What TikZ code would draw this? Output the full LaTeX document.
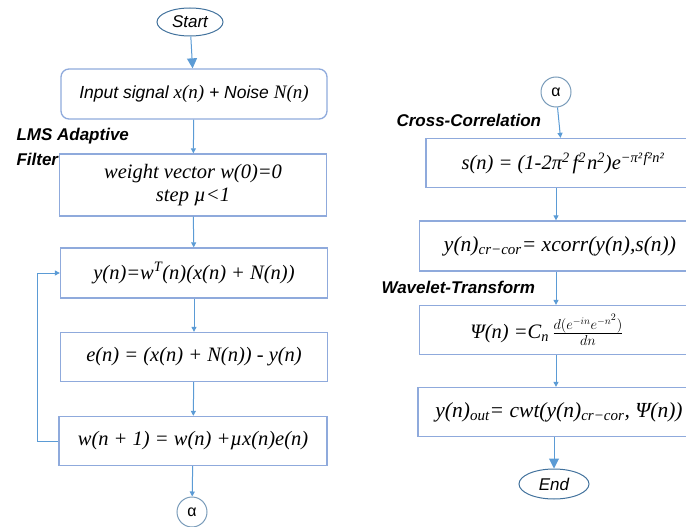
\documentclass[tikz,border=0pt]{standalone}
\usepackage{fontspec}
\setmainfont{Liberation Sans}
\newfontfamily\tm{Liberation Serif}
\usetikzlibrary{arrows.meta,shapes.geometric}
\definecolor{boxline}{HTML}{8FAADC}
\definecolor{flowline}{HTML}{5B9BD5}
\definecolor{termline}{HTML}{41719C}

\tikzset{
    procbox/.style={draw=boxline, line width=1.3pt, inner sep=0pt, minimum height=48pt,
        align=center, font=\tm\itshape\fontsize{20.5}{23}\selectfont},
    termnode/.style={ellipse, draw=termline, line width=1pt, inner sep=0pt,
        font=\itshape\fontsize{17}{20}\selectfont},
    linknode/.style={circle, draw=termline!70, line width=1pt, inner sep=0pt,
        minimum size=30pt, font=\fontsize{16}{19}\selectfont},
    sidelabel/.style={anchor=base west, align=left,
        font=\bfseries\itshape\fontsize{17}{25}\selectfont},
    flow/.style={draw=flowline, line width=1pt, -{Triangle[length=5pt,width=5pt]}},
    bigflow/.style={draw=flowline, line width=1pt, -{Triangle[length=10pt,width=10pt]}}
}

\begin{document}
\begin{tikzpicture}[x=1pt,y=-1pt]
    \useasboundingbox (0,0) rectangle (686,527);
    \clip (0,0) rectangle (686,527);

    % left column
    \node [termnode, minimum width=66pt, minimum height=28pt] (start) at (190,22) {Start};
    \node [procbox, rounded corners=8pt, minimum width=266pt, minimum height=50pt,
        font=\itshape\fontsize{17.5}{20}\selectfont] (input) at (194,94)
        {Input signal {\tm\fontsize{19}{20}\selectfont x(n)} + Noise {\tm\fontsize{19}{20}\selectfont N(n)}};
    \node [procbox, minimum width=267pt, minimum height=62pt] (weight) at (193,185)
        {weight vector w(0)=0\\step \textmu<1};
    \node [procbox, minimum width=267pt, minimum height=50pt] (yout) at (194,273)
        {y(n)=w\textsuperscript{T}(n)(x(n) + N(n))};
    \node [procbox, minimum width=267pt, minimum height=49pt] (err) at (194,357)
        {e(n) = (x(n) + N(n)) - y(n)};
    \node [procbox, minimum width=268pt, minimum height=49pt] (upd) at (193,441)
        {w(n + 1) = w(n) +\textmu x(n)e(n)};
    \node [linknode] (linka) at (192,512) {α};
    \node [sidelabel] (lmslbl) at (13,165) {LMS Adaptive\\Filter};

    \draw [bigflow] (start) -- (input);
    \draw [flow] (input) -- (weight);
    \draw [flow] (weight) -- (yout);
    \draw [flow] (yout) -- (err);
    \draw [flow] (err) -- (upd);
    \draw [flow] (upd) -- (linka);
    \draw [flow] (upd.west) -- (37,441) |- (yout.west);

    % right column
    \node [linknode] (linkb) at (556,92) {α};
    \node [procbox, minimum width=274pt, minimum height=49pt] (corr) at (563,163)
        {s(n) = (1-2π\textsuperscript{2}\kern3pt f\textsuperscript{2}\kern1pt n\textsuperscript{2})e\textsuperscript{−π²\kern1.5pt f²\kern.5pt n²}};
    \node [procbox, minimum width=281pt, minimum height=50pt,
        font=\tm\itshape\fontsize{21.5}{24}\selectfont] (xcorr) at (560,246)
        {y(n)\textsubscript{cr−cor}= xcorr(y(n),s(n))};
    \node [procbox, minimum width=281pt, minimum height=49pt] (wave) at (560,330)
        {Ψ(n) =C\textsubscript{n}\,$\frac{d(e^{-in}e^{-n^2})}{dn}$\hspace{26pt}};
    \node [procbox, minimum width=282pt, minimum height=49pt,
        font=\tm\itshape\fontsize{21.5}{24}\selectfont] (cwt) at (559,412)
        {y(n)\textsubscript{out}= cwt(y(n)\textsubscript{cr−cor}, Ψ(n))};
    \node [termnode, minimum width=70pt, minimum height=30pt] (finish) at (554,484) {End};
    \node [sidelabel] (corrlbl) at (393,127) {Cross-Correlation};
    \node [sidelabel] (wavelbl) at (378,293) {Wavelet-Transform};

    \draw [flow] (linkb) -- (corr);
    \draw [flow] (corr.south -| linkb) -- (xcorr.north -| linkb);
    \draw [flow] (xcorr.south -| linkb) -- (wave.north -| linkb);
    \draw [flow] (wave.south -| linkb) -- (cwt.north -| linkb);
    \draw [bigflow] (cwt.south -| finish) -- (finish);
  \end{tikzpicture}
\end{document}
